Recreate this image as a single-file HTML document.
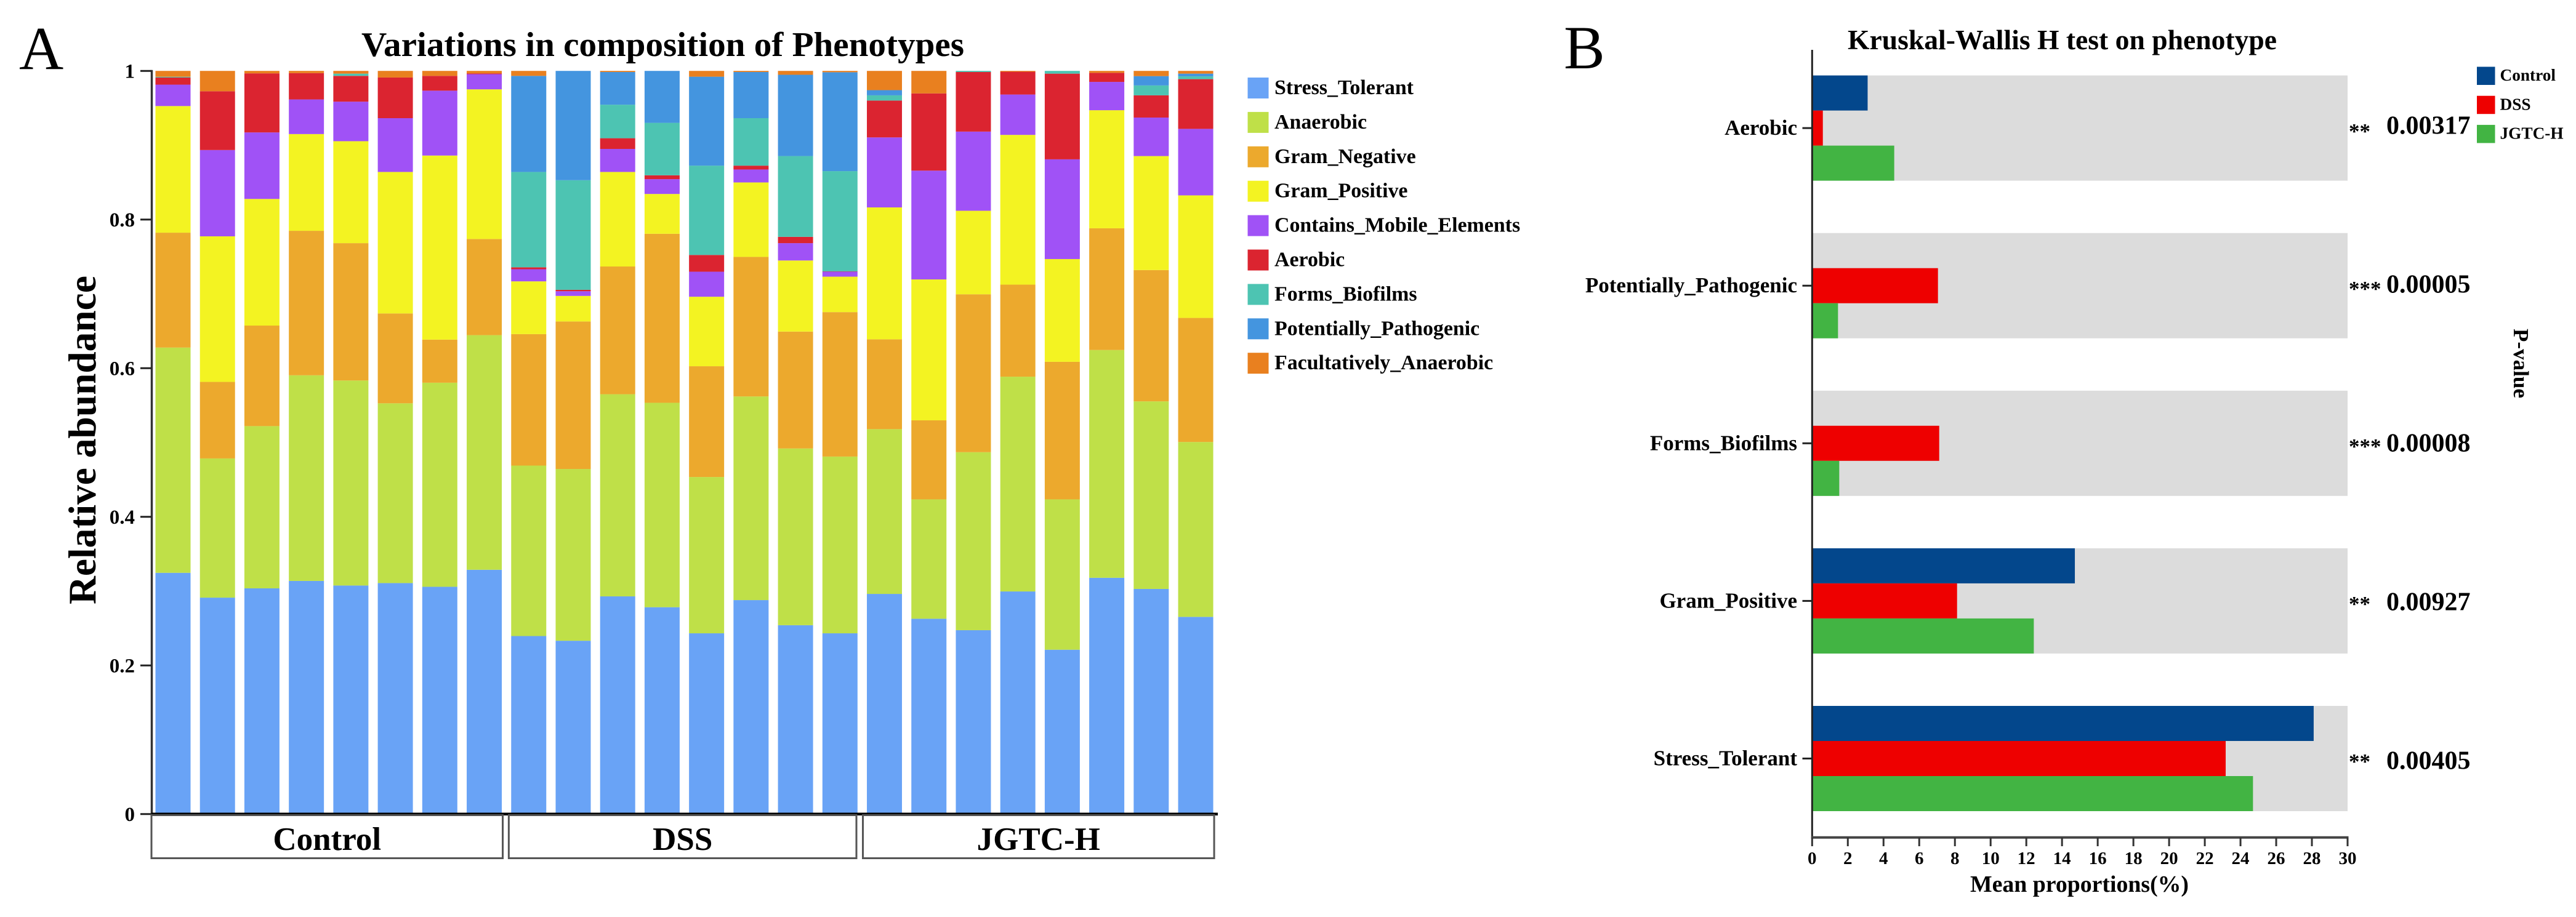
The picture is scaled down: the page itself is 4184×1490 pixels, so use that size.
<!DOCTYPE html>
<html lang="en">
<head>
<meta charset="utf-8">
<title>Phenotype composition and Kruskal-Wallis H test</title>
<style>
html,body{margin:0;padding:0;background:#fff;}
svg{display:block;}
text{font-family:"Liberation Serif","Times New Roman",serif;fill:#000;}
.b{font-weight:bold;}
</style>
</head>
<body>
<svg id="figure" xmlns="http://www.w3.org/2000/svg" width="4184" height="1490" viewBox="0 0 4184 1490">
  <rect x="0" y="0" width="4184" height="1490" fill="#ffffff"/>
  <text x="31" y="112" font-size="100">A</text>
  <text x="2540" y="111" font-size="100">B</text>
  <text class="b" x="587" y="91" font-size="56" textLength="979" lengthAdjust="spacingAndGlyphs">Variations in composition of Phenotypes</text>
  <text class="b" transform="translate(155,982) rotate(-90)" font-size="63" textLength="534" lengthAdjust="spacingAndGlyphs">Relative abundance</text>
  <text class="b" x="3001" y="80" font-size="45" textLength="697" lengthAdjust="spacingAndGlyphs">Kruskal-Wallis H test on phenotype</text>
  <text class="b" x="3200" y="1449" font-size="38" textLength="355" lengthAdjust="spacingAndGlyphs">Mean proportions(%)</text>
  <text class="b" transform="translate(4083,534) rotate(90)" font-size="35" textLength="113" lengthAdjust="spacingAndGlyphs">P-value</text>
  <g id="panelA"></g>
  <g id="panelB"></g>
</svg>
<script>
// ---- Panel A data (per-sample relative abundance, bottom to top) ----
const seriesNames = ['Stress_Tolerant','Anaerobic','Gram_Negative','Gram_Positive','Contains_Mobile_Elements','Aerobic','Forms_Biofilms','Potentially_Pathogenic','Facultatively_Anaerobic'];
const seriesColors = ['#69a3f6','#bfe048','#eca92d','#f3f322','#a052f6','#db2430','#4dc4b2','#4495df','#e9801f'];
const stressTolerant = [.3246,.2912,.3037,.3137,.3075,.3108,.3058,.3287,.2395,.2332,.2929,.2783,.2432,.2879,.2541,.2432,.2962,.2628,.2474,.2995,.2211,.3179,.3029,.2653];
const anaerobic = [.3031,.1873,.2183,.2767,.2759,.2419,.2746,.3157,.2294,.2311,.272,.2751,.2103,.274,.2378,.2378,.2217,.1606,.2395,.289,.2023,.3065,.2524,.2353];
const gramNegative = [.1546,.103,.1353,.1944,.1848,.1209,.058,.1294,.1769,.1985,.1719,.2274,.1491,.1878,.1573,.1944,.1209,.1064,.2125,.1239,.1851,.1638,.1767,.167];
const gramPositive = [.1704,.1959,.1704,.1302,.1372,.1904,.2477,.2014,.071,.0344,.1272,.0536,.0935,.1002,.0957,.0477,.1775,.1896,.1124,.2015,.1383,.1589,.1534,.1649];
const mobileElements = [.0288,.1161,.0895,.0466,.0532,.0724,.0873,.0204,.0163,.0063,.031,.0199,.0337,.0174,.0233,.0067,.0942,.1464,.1065,.0543,.1342,.0381,.0518,.0895];
const aerobic = [.0096,.0791,.0795,.0354,.0347,.0547,.0199,.0011,.0026,.0019,.0144,.0052,.0225,.0052,.0085,.0004,.0496,.1039,.0802,.0307,.1153,.0122,.0299,.0669];
const formsBiofilms = [.001,0,0,0,.003,0,0,0,.1283,.1475,.0451,.0706,.1202,.0639,.1087,.1349,.007,0,.0015,0,.0037,0,.0133,.0037];
const potentiallyPathogenic = [0,0,0,0,0,0,0,0,.1293,.1471,.044,.0699,.1197,.0621,.1094,.1331,.007,0,0,0,0,0,.0126,.0037];
const facultativelyAnaerobic = [.0079,.0274,.0033,.003,.0037,.0089,.0067,.0033,.0067,0,.0015,0,.0078,.0015,.0052,.0018,.0259,.0303,0,.0011,0,.0026,.007,.0037];
const yTicksA = [0,0.2,0.4,0.6,0.8,1];
const yTickLabelsA = ['0','0.2','0.4','0.6','0.8','1'];
const groupNames = ['Control','DSS','JGTC-H'];

// ---- Panel B data ----
const categories = ['Aerobic','Potentially_Pathogenic','Forms_Biofilms','Gram_Positive','Stress_Tolerant'];
const controlMeans = [3.11,0,0,14.72,28.1];
const dssMeans = [0.6,7.05,7.12,8.12,23.17];
const jgtcMeans = [4.6,1.45,1.52,12.42,24.7];
const pValues = ['0.00317','0.00005','0.00008','0.00927','0.00405'];
const significance = ['**','***','***','**','**'];
const xTicksB = [0,2,4,6,8,10,12,14,16,18,20,22,24,26,28,30];
const groupLegend = ['Control','DSS','JGTC-H'];
const groupColors = ['#03478c','#ee0000','#42b443'];

const allSeries = [stressTolerant,anaerobic,gramNegative,gramPositive,mobileElements,aerobic,formsBiofilms,potentiallyPathogenic,facultativelyAnaerobic];
const allMeans = [controlMeans,dssMeans,jgtcMeans];
const NS = 'http://www.w3.org/2000/svg';

function shape(parent, tag, props) {
  const el = document.createElementNS(NS, tag);
  for (const k in props) el.setAttribute(k, props[k]);
  parent.appendChild(el);
  return el;
}
function label(parent, x, y, str, size, anchor, weight) {
  const el = shape(parent, 'text', {x: x, y: y, 'font-size': size, 'text-anchor': anchor || 'start', 'font-weight': weight || 'bold'});
  el.textContent = str;
  return el;
}

// ---- Panel A axis functions ----
const gA = document.getElementById('panelA');
const barWidthA = 57;
function xA(i) { return 252.5 + i * 72.22; }
function yA(v) { return 1322.7 - v * 1207.5; }

// stacked bars
for (let i = 0; i < stressTolerant.length; i++) {
  let cum = 0;
  for (let s = 0; s < allSeries.length; s++) {
    const v = allSeries[s][i];
    const bar = shape(gA, 'rect', {x: xA(i), y: yA(cum + v), width: barWidthA, height: Math.max(0, yA(cum) - yA(cum + v)), fill: seriesColors[s]});
    
    
    cum += v;
  }
}

// y axis
const axisA = shape(gA, 'line', {x1: 246.5, y1: yA(1) - 1.5, x2: 246.5, y2: yA(0) + 2, stroke: '#333', 'stroke-width': 3.5});


const baseA = shape(gA, 'line', {x1: 246, y1: yA(0), x2: 1978, y2: yA(0), stroke: '#000', 'stroke-width': 4.5});



yTicksA.forEach(function (t, i) {
  const tick = shape(gA, 'line', {x1: 228, y1: yA(t), x2: 246, y2: yA(t), stroke: '#222', 'stroke-width': 3});
  
  
  const lab = label(gA, 219, yA(t) + 11.5, yTickLabelsA[i], 33, 'end');
  
  
});

// sample group boxes
groupNames.forEach(function (name, g) {
  const first = g * 8;
  const x0 = xA(first) - (g === 1 ? 3.9 : 6.5);
  const x1 = xA(first + 7) + barWidthA + (g === 1 ? -1.8 : 1.5);
  const box = shape(gA, 'rect', {x: x0, y: 1324.5, width: x1 - x0, height: 70, fill: '#fff', stroke: '#555', 'stroke-width': 3});
  
  
  const lab = label(gA, (x0 + x1) / 2, 1381, name, 53, 'middle');
  
  
});

// legend
seriesNames.forEach(function (name, i) {
  const swatch = shape(gA, 'rect', {x: 2026.5, y: 126 + i * 55.9, width: 34, height: 34, fill: seriesColors[i]});
  
  
  const lab = label(gA, 2070, 153 + i * 55.9, name, 33.9, 'start');
  
  
});

// ---- Panel B axis functions ----
const gB = document.getElementById('panelB');
const bandHeight = 171;
function xB(v) { return 2943.3 + v * 28.99; }
function bandTop(i) { return 122.6 + i * 256.1; }

categories.forEach(function (name, i) {
  const band = shape(gB, 'rect', {x: xB(0), y: bandTop(i), width: xB(30) - xB(0), height: bandHeight, fill: '#dcdcdc'});
  
  
  allMeans.forEach(function (series, s) {
    const bar = shape(gB, 'rect', {x: xB(0), y: bandTop(i) + s * bandHeight / 3, width: xB(series[i]) - xB(0), height: bandHeight / 3, fill: groupColors[s]});
    
    
  });
  const centre = bandTop(i) + bandHeight / 2;
  const tick = shape(gB, 'line', {x1: 2927.5, y1: centre, x2: xB(0), y2: centre, stroke: '#222', 'stroke-width': 3});
  
  
  const lab = label(gB, 2919, centre + 11, name, 35, 'end');
  
  
  const star = label(gB, 3815, 225 + i * 256, significance[i], 35, 'start');
  
  
  const pv = label(gB, 3876, 217.7 + i * 258, pValues[i], 42, 'start');
  
  
});

const axisB = shape(gB, 'line', {x1: xB(0), y1: 81, x2: xB(0), y2: 1362, stroke: '#222', 'stroke-width': 3});


const baseB = shape(gB, 'line', {x1: xB(0) - 1.5, y1: 1360.7, x2: xB(30) + 1.5, y2: 1360.7, stroke: '#444', 'stroke-width': 4});



xTicksB.forEach(function (t) {
  const tick = shape(gB, 'line', {x1: xB(t), y1: 1361, x2: xB(t), y2: 1375, stroke: '#333', 'stroke-width': 3});
  
  
  const lab = label(gB, xB(t), 1404, String(t), 29, 'middle');
  
  
});

groupLegend.forEach(function (name, i) {
  const swatch = shape(gB, 'rect', {x: 4023, y: 108.5 + i * 47.2, width: 29.5, height: 29.5, fill: groupColors[i]});
  
  
  const lab = label(gB, 4060.5, 131 + i * 47.3, name, 27.3, 'start');
  
  
});
</script>
</body>
</html>
